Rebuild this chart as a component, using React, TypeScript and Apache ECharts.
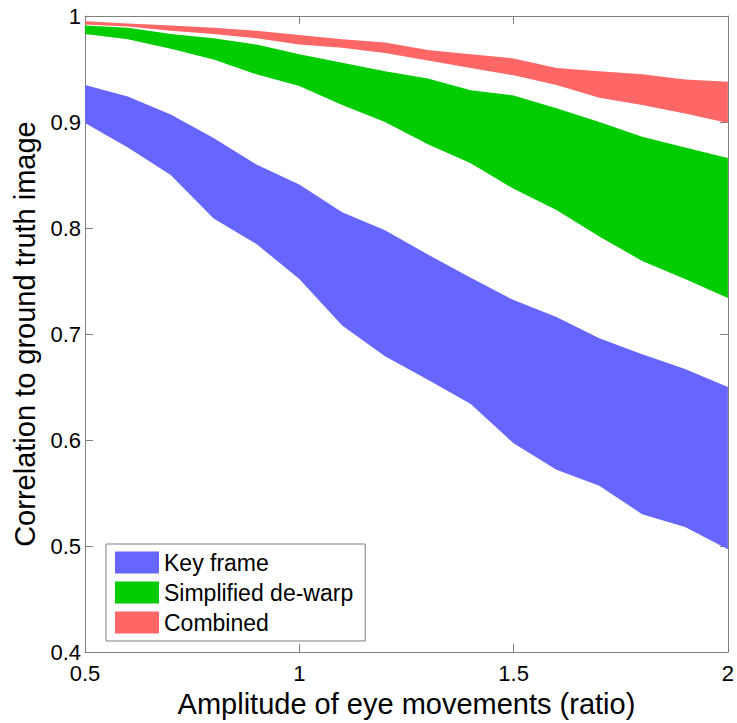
import React, { useEffect, useRef } from "react";
import * as echarts from "echarts";

const X = [0.5, 0.6, 0.7, 0.8, 0.9, 1.0, 1.1, 1.2, 1.3, 1.4, 1.5, 1.6, 1.7, 1.8, 1.9, 2.0];

const keyFrameUpper = [0.935, 0.924, 0.907, 0.885, 0.860, 0.841, 0.815, 0.798, 0.775, 0.753, 0.732, 0.716, 0.696, 0.681, 0.667, 0.650];
const keyFrameLower = [0.899, 0.876, 0.850, 0.809, 0.785, 0.752, 0.708, 0.679, 0.657, 0.634, 0.597, 0.572, 0.557, 0.530, 0.518, 0.497];

const dewarpUpper = [0.991, 0.989, 0.983, 0.979, 0.973, 0.964, 0.956, 0.948, 0.941, 0.930, 0.925, 0.913, 0.900, 0.886, 0.876, 0.866];
const dewarpLower = [0.983, 0.978, 0.969, 0.959, 0.945, 0.934, 0.916, 0.900, 0.879, 0.861, 0.837, 0.817, 0.792, 0.769, 0.752, 0.734];

const combinedUpper = [0.995, 0.993, 0.991, 0.989, 0.986, 0.982, 0.978, 0.975, 0.968, 0.964, 0.960, 0.951, 0.948, 0.945, 0.940, 0.938];
const combinedLower = [0.992, 0.990, 0.986, 0.983, 0.979, 0.973, 0.970, 0.965, 0.958, 0.951, 0.944, 0.935, 0.923, 0.916, 0.908, 0.899];

const bands = [
  { name: "Key frame", upper: keyFrameUpper, lower: keyFrameLower, color: "#6666FF" },
  { name: "Simplified de-warp", upper: dewarpUpper, lower: dewarpLower, color: "#00CC00" },
  { name: "Combined", upper: combinedUpper, lower: combinedLower, color: "#FF6666" },
];

const FONT = "'Liberation Sans', Arial, Helvetica, sans-serif";
const AXIS_COLOR = "#7f7f7f";

export default function App() {
  const ref = useRef<HTMLDivElement>(null);

  useEffect(() => {
    if (!ref.current) return;
    const chart = echarts.init(ref.current, undefined, { renderer: "svg" });

    const series: any[] = bands.map((b) => ({
      name: b.name,
      type: "custom",
      coordinateSystem: "cartesian2d",
      xAxisIndex: 0,
      yAxisIndex: 0,
      itemStyle: { color: b.color },
      data: [[X[0], b.lower[0]]],
      renderItem: (params: any, api: any) => {
        const pts: number[][] = [];
        X.forEach((x, k) => pts.push(api.coord([x, b.upper[k]])));
        for (let k = X.length - 1; k >= 0; k--) pts.push(api.coord([X[k], b.lower[k]]));
        return {
          type: "polygon",
          shape: { points: pts },
          style: { fill: b.color, stroke: "none" },
        };
      },
    }));

    const tickCommon = { show: true, inside: true, length: 8, lineStyle: { color: AXIS_COLOR, width: 1 } };

    chart.setOption({
      animation: false,
      backgroundColor: "#ffffff",
      textStyle: { fontFamily: FONT, color: "#000" },
      grid: { left: 85, right: 7, top: 16, bottom: 61, containLabel: false },
      legend: {
        data: bands.map((b) => b.name),
        orient: "vertical",
        left: 106,
        top: 544,
        icon: "rect",
        itemWidth: 44,
        itemHeight: 22,
        itemGap: 7,
        padding: [7, 12, 7, 9],
        backgroundColor: "#ffffff",
        borderColor: AXIS_COLOR,
        borderWidth: 1,
        borderRadius: 0,
        selectedMode: false,
        textStyle: { fontFamily: FONT, fontSize: 23, color: "#000" },
      },
      xAxis: [
        {
          type: "value",
          min: 0.5,
          max: 2,
          interval: 0.5,
          position: "bottom",
          name: "Amplitude of eye movements (ratio)",
          nameLocation: "middle",
          nameGap: 32,
          nameTextStyle: { fontFamily: FONT, fontSize: 29, color: "#000" },
          axisLine: { show: true, onZero: false, lineStyle: { color: AXIS_COLOR, width: 1 } },
          axisTick: tickCommon,
          axisLabel: {
            fontFamily: FONT,
            fontSize: 22,
            color: "#000",
            margin: 10,
            formatter: (v: number) => String(v),
          },
          splitLine: { show: false },
        },
        {
          type: "value",
          min: 0.5,
          max: 2,
          interval: 0.5,
          position: "top",
          axisLine: { show: true, onZero: false, lineStyle: { color: AXIS_COLOR, width: 1 } },
          axisTick: tickCommon,
          axisLabel: { show: false },
          splitLine: { show: false },
        },
      ],
      yAxis: [
        {
          type: "value",
          min: 0.4,
          max: 1,
          interval: 0.1,
          position: "left",
          name: "Correlation to ground truth image",
          nameLocation: "middle",
          nameRotate: 90,
          nameGap: 44,
          nameTextStyle: { fontFamily: FONT, fontSize: 29, color: "#000" },
          axisLine: { show: true, onZero: false, lineStyle: { color: AXIS_COLOR, width: 1 } },
          axisTick: tickCommon,
          axisLabel: {
            fontFamily: FONT,
            fontSize: 22,
            color: "#000",
            margin: 4,
            formatter: (v: number) => String(+v.toFixed(1)),
          },
          splitLine: { show: false },
        },
        {
          type: "value",
          min: 0.4,
          max: 1,
          interval: 0.1,
          position: "right",
          axisLine: { show: true, onZero: false, lineStyle: { color: AXIS_COLOR, width: 1 } },
          axisTick: tickCommon,
          axisLabel: { show: false },
          splitLine: { show: false },
        },
      ],
      series,
    });

    return () => chart.dispose();
  }, []);

  return (
    <div
      ref={ref}
      style={{ position: "fixed", left: 0, top: 0, width: 737, height: 723, background: "#fff" }}
    />
  );
}
